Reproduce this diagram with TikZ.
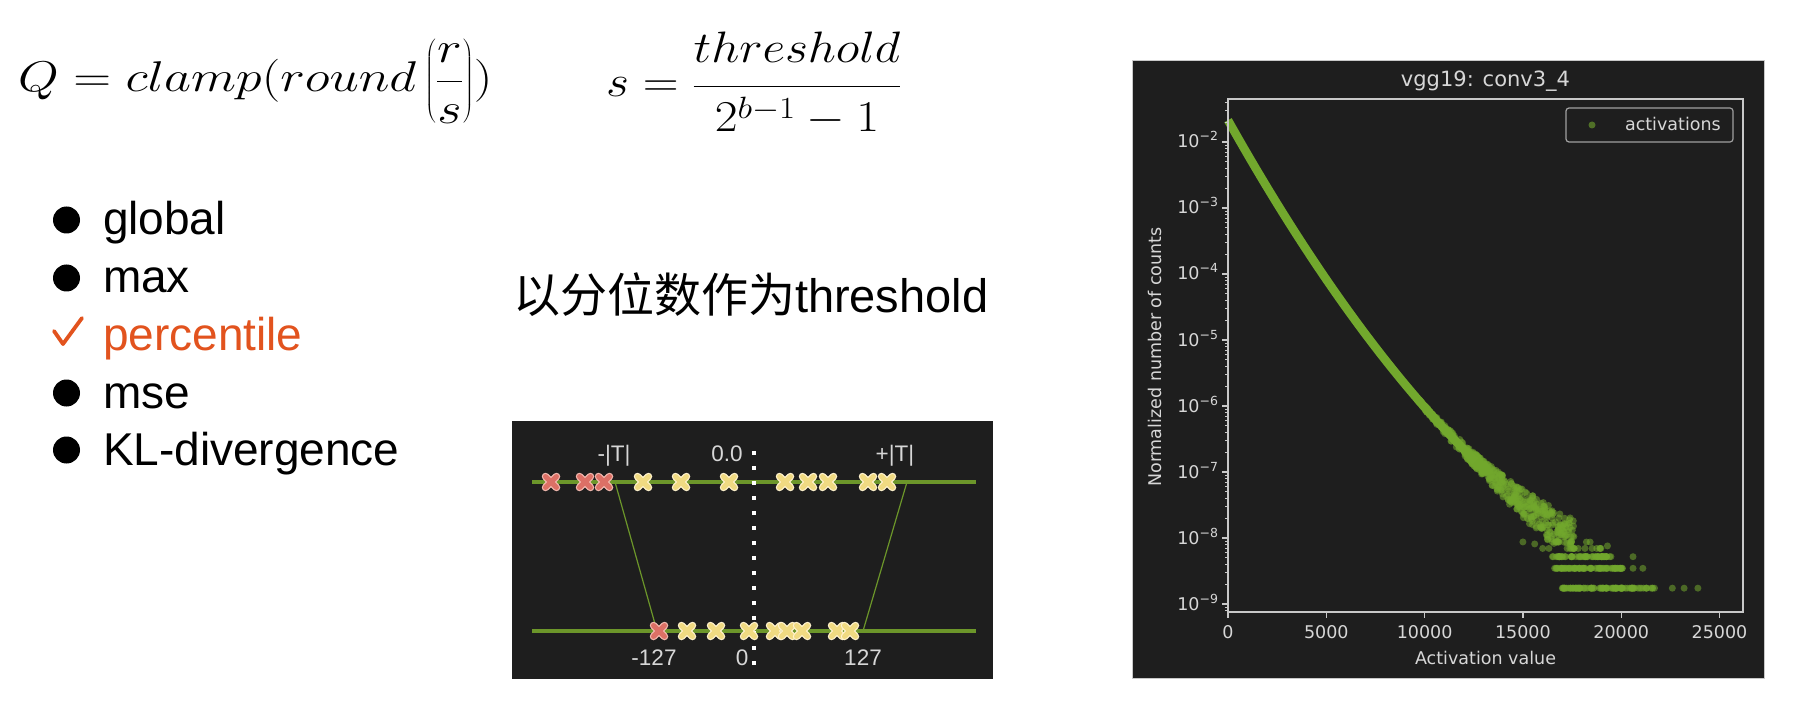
\RequirePackage{fix-cm}
\documentclass[tikz,border=0pt]{standalone}
\usepackage{fontspec}
\usepackage{graphicx}
\newfontfamily\arial{Liberation Sans}
\newfontfamily\dv{DejaVu Sans}
\newfontfamily\cjk{Noto Sans CJK SC}
\definecolor{pbg}{RGB}{30,30,30}
\definecolor{pgreen}{RGB}{114,168,45}
\definecolor{qgreen}{RGB}{108,150,42}
\definecolor{ltext}{RGB}{215,215,215}
\definecolor{frame}{RGB}{200,200,200}
\definecolor{pctorange}{RGB}{226,83,30}
\definecolor{xred}{RGB}{220,112,102}
\definecolor{xredb}{RGB}{242,185,175}
\definecolor{xyel}{RGB}{240,218,130}
\definecolor{xyelb}{RGB}{255,242,205}
\tikzset{
  slidetext/.style={anchor=base west, font=\arial\fontsize{46}{55}\selectfont},
  ticklab/.style={font=\dv\fontsize{17.5}{21}\selectfont, text=ltext},
  qlab/.style={anchor=base, font=\arial\fontsize{22.5}{27}\selectfont, text=ltext},
  dotc/.style={fill=pgreen, fill opacity=0.55},
  pics/qx/.style n args={2}{code={
    \draw[line width=7.5pt,#2,line cap=round] (-5.5,-5.5) -- (5.5,5.5) (-5.5,5.5) -- (5.5,-5.5);
    \draw[line width=5pt,#1,line cap=round] (-5.5,-5.5) -- (5.5,5.5) (-5.5,5.5) -- (5.5,-5.5);
  }}
}
\begin{document}
\begin{tikzpicture}[x=1pt,y=-1pt, every node/.style={inner sep=0pt, outer sep=0pt}]
\useasboundingbox (0,0) rectangle (1798,708);
\fill[white] (0,0) rectangle (1798,708);

% ---------- formulas ----------
\node[anchor=base west] (qf) at (18,92) {\fontsize{43}{52}\selectfont\scalebox{1.22}[1]{$\displaystyle Q=clamp(round\left(\frac{r\vrule width0pt depth16.2pt height0pt}{\vrule width0pt height40.7pt depth0pt s}\right))$}};
\node[anchor=base west] (sf) at (606,97) {\fontsize{44}{53}\selectfont\scalebox{1.13}[1]{$\displaystyle s=\frac{threshold\vrule width0pt depth21.8pt height0pt}{\vrule width0pt height43.8pt depth0pt 2^{b-1}-1}$}};

% ---------- bullet list ----------
\fill (66.5,220) circle (13.5pt);
\node[slidetext] (b1) at (103,235) {global};
\fill (66.5,278) circle (13.5pt);
\node[slidetext] (b2) at (103,293) {max};
\draw[pctorange, line width=3.8pt, line cap=round, line join=round] (54,331) -- (63,344) -- (82,318);
\node[slidetext, text=pctorange] (b3) at (103,350) {percentile};
\fill (66.5,393) circle (13.5pt);
\node[slidetext] (b4) at (103,408) {mse};
\fill (66.5,450) circle (13.5pt);
\node[slidetext] (b5) at (103,465) {KL-divergence};

% ---------- chinese caption ----------
\node[anchor=base west, font=\fontsize{47}{56}\selectfont] (cap) at (513,313) {\cjk 以分位数作为\arial threshold};

% ---------- quantization panel ----------
\fill[pbg] (512,421) rectangle (993,679);
\coordinate (qtl) at (532,482); \coordinate (qtr) at (976,482);
\coordinate (qbl) at (532,631); \coordinate (qbr) at (976,631);
\draw[qgreen, line width=4pt] (qtl) -- (qtr);
\draw[qgreen, line width=4pt] (qbl) -- (qbr);
\coordinate (mtl) at (615,482); \coordinate (mbl) at (657,631);
\coordinate (mtr) at (907,482); \coordinate (mbr) at (863,631);
\draw[qgreen, line width=1.2pt] (mtl) -- (mbl);
\draw[qgreen, line width=1.2pt] (mtr) -- (mbr);
\coordinate (dtop) at (754,451); \coordinate (dbot) at (754,668);
\draw[white, line width=4pt, dash pattern=on 4pt off 11pt] (dtop) -- (dbot);
\node[qlab] (lmt) at (614,461) {-|T|};
\node[qlab] (lz) at (727,461) {0.0};
\node[qlab] (lpt) at (895,461) {+|T|};
\node[qlab] (lm127) at (654,665) {-127};
\node[qlab] (l0) at (742,665) {0};
\node[qlab] (l127) at (863,665) {127};
\foreach \xx in {551,585,604} \pic at (\xx,482) {qx={xred}{xredb}};
\foreach \xx in {643,681,729,785,808,828,868,887} \pic at (\xx,482) {qx={xyel}{xyelb}};
\pic at (659,631) {qx={xred}{xredb}};
\foreach \xx in {687,716,749,775,787,802,837,850} \pic at (\xx,631) {qx={xyel}{xyelb}};

% ---------- plot panel ----------
\fill[pbg, draw=frame, line width=0.8pt] (1132,60) rectangle (1764,678);
\node[anchor=base, font=\dv\fontsize{21}{25}\selectfont, text=ltext] (title) at (1485.5,87) {vgg19: conv3\_4};
% data: main curve  log10(y) = -1.67 - 0.5304 x + 0.00955 x^2  (x in thousands)
\draw[pgreen, line width=8.5pt, line cap=butt] plot[domain=0:12.6, samples=90] ({1228+19.66*\x},{10-66*(-1.67-0.5304*\x+0.00955*\x*\x)});
\pgfmathsetseed{4242}
\foreach \i in {1,...,140}{
  \pgfmathsetmacro\xk{9.5+3.2*rnd}
  \pgfmathsetmacro\sig{0.02+0.03*(\xk-9.5)}
  \pgfmathsetmacro\L{-1.67-0.5304*\xk+0.00955*\xk*\xk+\sig*rand}
  \fill[dotc] ({1228+19.66*\xk},{10-66*\L}) circle (3.5pt);
}
\foreach \i in {1,...,420}{
  \pgfmathsetmacro\xk{12+5.6*rnd}
  \pgfmathsetmacro\sig{0.08+0.045*(\xk-12)}
  \pgfmathsetmacro\L{-1.67-0.5304*\xk+0.00955*\xk*\xk+\sig*rand}
  \pgfmathtruncatemacro\keep{\L>-8.1}
  \ifnum\keep=1 \fill[dotc] ({1228+19.66*\xk},{10-66*\L}) circle (3.5pt);\fi
}
\foreach \lev/\xa/\xb/\n in {-8.061/16.0/18.9/10, -8.158/15.8/19.2/16, -8.283/16.4/19.5/60, -8.459/16.6/20.1/70, -8.76/17.0/21.7/90}{
  \foreach \j in {1,...,\n}{
    \pgfmathsetmacro\xk{\xa+(\xb-\xa)*rnd}
    \fill[dotc] ({1228+19.66*\xk},{10-66*\lev}) circle (3.5pt);
  }
}
\foreach \xk/\lev in {15.0/-8.06, 15.6/-8.09, 16.0/-7.75, 16.3/-7.8, 16.8/-7.87, 19.3/-8.12, 20.6/-8.283, 20.6/-8.459, 21.1/-8.459, 22.6/-8.76, 23.2/-8.76, 23.9/-8.76}
  \fill[dotc] ({1228+19.66*\xk},{10-66*\lev}) circle (3.5pt);
% axes frame
\draw[frame, line width=1.6pt] (1228,99) rectangle (1743,612);
% y ticks
\foreach \e in {2,...,9}{
  \draw[frame, line width=1.3pt] (1222,{10+66*\e}) -- (1228,{10+66*\e});
  \node[ticklab, anchor=base east] (yl\e) at (1218,{16+66*\e}) {10\raisebox{7pt}{\fontsize{12.5}{15}\selectfont −\e}};
  \foreach \m in {2,...,9}{
    \pgfmathsetmacro\yy{10+66*\e-66*log10(\m)}
    \pgfmathtruncatemacro\ok{\yy>99}
    \ifnum\ok=1 \draw[frame, line width=1pt] (1225,\yy) -- (1228,\yy);\fi
  }
}
\foreach \m in {8,9}{
  \pgfmathsetmacro\yy{10+660-66*log10(\m)}
  \draw[frame, line width=1pt] (1225,\yy) -- (1228,\yy);
}
% x ticks
\foreach \v/\lab in {0/0,1/5000,2/10000,3/15000,4/20000,5/25000}{
  \draw[frame, line width=1.3pt] ({1228+98.3*\v},612) -- ({1228+98.3*\v},618);
  \node[ticklab, anchor=base] (xl\v) at ({1228+98.3*\v},638) {\lab};
}
\node[ticklab, anchor=base] (xlab) at (1485.5,664) {Activation value};
\node[ticklab, anchor=base, rotate=90] (ylab) at (1161,357) {Normalized number of counts};
% legend
\draw[rounded corners=3pt, draw={rgb,255:red,160;green,160;blue,160}, line width=1.2pt, fill=pbg] (1566,108) rectangle (1733,142);
\fill[pgreen, fill opacity=0.6] (1592,125) circle (3.5pt);
\node[ticklab, anchor=base west] (leg) at (1625,131) {activations};
\end{tikzpicture}
\end{document}
